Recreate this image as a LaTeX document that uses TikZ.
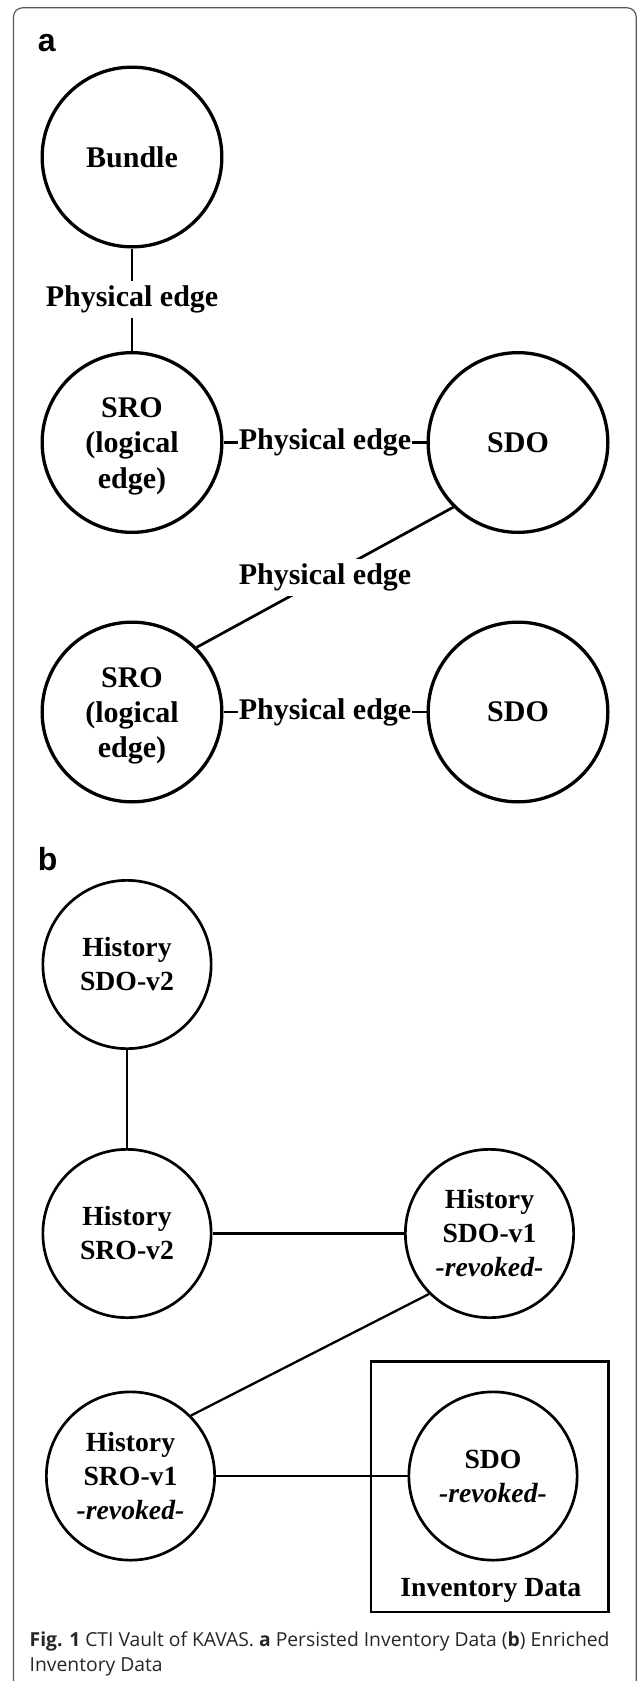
\documentclass[tikz,border=0pt]{standalone}
\usepackage{fontspec}
\setmainfont{Liberation Serif}
\newfontfamily\labfont{Liberation Sans}
\newfontfamily\capfont{Open Sans}
\begin{document}
\begin{tikzpicture}[x=0.5pt,y=-0.5pt,
  every node/.style={inner sep=0pt},
  bigcirc/.style={circle, draw=black, line width=1.65pt, minimum size=89.85pt, align=center,
    font=\fontsize{15}{17.65}\selectfont\bfseries},
  smallcirc/.style={circle, draw=black, line width=1.35pt, minimum size=84.15pt, align=center,
    font=\fontsize{13.85}{17}\selectfont\bfseries},
  conna/.style={line width=1.35pt},
  connb/.style={line width=1.15pt},
  edgelab/.style={fill=white, inner xsep=0.6pt, inner ysep=2.4pt,
    font=\fontsize{15}{17.65}\selectfont\bfseries},
  panel/.style={font=\fontsize{16}{19}\selectfont\labfont\bfseries, anchor=base west},
  captxt/.style={font=\fontsize{9.65}{12.5}\selectfont\capfont, text=black!85, anchor=base west},
]
\useasboundingbox (0,0) rectangle (637,1681);
% outer frame (open at the bottom)
\draw[line width=0.6pt, draw=black!65, rounded corners=4.5pt]
  (13.5,1681) -- (13.5,7.8) -- (636.2,7.8) -- (636.2,1681);

% ---------- part a ----------
\node[panel] (la) at (37.5,51.7) {a};
\node[bigcirc] (bundle) at (132,157) {Bundle};
\node[bigcirc] (sro1) at (132,442.5) {\rule{0pt}{13.7pt}SRO\\(logical\\edge)};
\node[bigcirc] (sdo1) at (518,442.5) {SDO};
\node[bigcirc] (sro2) at (132,712) {\rule{0pt}{13.7pt}SRO\\(logical\\edge)};
\node[bigcirc] (sdo2) at (518,712) {SDO};

\draw[conna] (bundle) -- node[edgelab] (e1) {Physical edge} (sro1);
\draw[conna] (sro1) -- node[edgelab] (e2) {Physical edge} (sdo1);
\draw[conna] (sdo1.south west) -- node[edgelab] (e3) {Physical edge} (sro2.north east);
\draw[conna] (sro2) -- node[edgelab] (e4) {Physical edge} (sdo2);

% ---------- part b ----------
\node[panel] (lb) at (37.5,870) {b};
\node[smallcirc] (hsdo2) at (127,964.5) {History\\SDO-v2};
\node[smallcirc] (hsro2) at (127,1233.5) {History\\SRO-v2};
\node[smallcirc] (hsdo1) at (489.5,1233.5) {History\\SDO-v1\\\textit{-revoked-}};
\node[smallcirc] (hsro1) at (130.5,1476) {History\\SRO-v1\\\textit{-revoked-}};
\node[smallcirc] (sdorev) at (493,1476) {SDO\\\textit{-revoked-}};
\node[draw, line width=1.35pt, minimum width=118.75pt, minimum height=125.25pt] (invbox) at (489.75,1486.75) {};
\node[font=\fontsize{13.85}{17}\selectfont\bfseries, anchor=base] (invlab) at (490.8,1596.7) {Inventory Data};

\draw[connb] (hsdo2) -- (hsro2);
\draw[connb] (hsro2) -- (hsdo1);
\draw[connb] (hsdo1.south west) -- (hsro1.north east);
\draw[connb] (hsro1) -- (sdorev);

% ---------- caption ----------
\node[captxt] (cap1) at (29.3,1646.7) {\textbf{Fig. 1} CTI Vault of KAVAS. \textbf{a} Persisted Inventory Data (\textbf{b}) Enriched};
\node[captxt] (cap2) at (29.3,1671.7) {Inventory Data};
\end{tikzpicture}
\end{document}
